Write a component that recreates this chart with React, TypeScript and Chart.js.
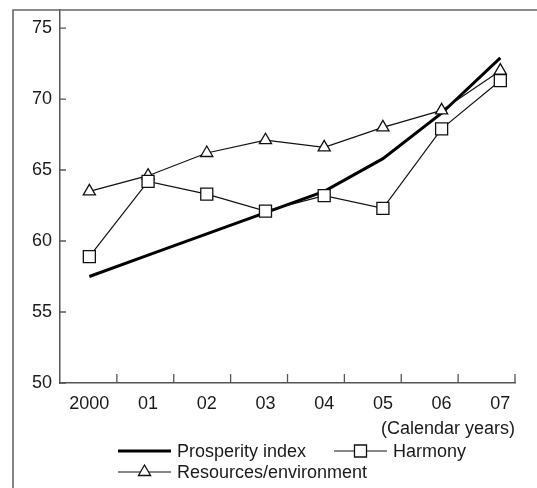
import { useEffect, useRef } from "react"
import { Chart, registerables } from "chart.js"
import { drawPoint } from "chart.js/helpers"

Chart.register(...registerables)

// Datos
const years = ["2000", "01", "02", "03", "04", "05", "06", "07"]
const prosperity = [57.5, 59.0, 60.5, 62.0, 63.5, 65.8, 69.0, 72.9]
const harmony = [58.9, 64.2, 63.3, 62.1, 63.2, 62.3, 67.9, 71.3]
const resources = [63.5, 64.6, 66.2, 67.1, 66.6, 68.0, 69.2, 72.0]
const yTicks = [50, 55, 60, 65, 70, 75]
const seriesNames = ["Prosperity index", "Harmony", "Resources/environment"]
const xUnit = "(Calendar years)"

const FONT = "'Liberation Sans', Arial, Helvetica, sans-serif"
const INK = "#1a1a1a"
const AXIS = "#555"

// marco exterior (solo se ven los bordes izquierdo y superior)
const framePlugin = {
  id: "frame",
  afterDraw(chart: any) {
    const { ctx, width, height } = chart
    ctx.save()
    ctx.strokeStyle = "#666"
    ctx.lineWidth = 1.6
    ctx.beginPath()
    ctx.moveTo(13, height)
    ctx.lineTo(13, 10)
    ctx.lineTo(width, 10)
    ctx.stroke()
    ctx.restore()
  },
}

// marcas de eje hacia dentro
const innerTicksPlugin = {
  id: "innerTicks",
  afterDraw(chart: any) {
    const { ctx, chartArea, scales } = chart
    ctx.save()
    ctx.strokeStyle = AXIS
    ctx.lineWidth = 1.3
    ctx.beginPath()
    yTicks.forEach((v) => {
      const py = scales.y.getPixelForValue(v)
      ctx.moveTo(chartArea.left, py)
      ctx.lineTo(chartArea.left + 6, py)
    })
    const w = chartArea.right - chartArea.left
    years.forEach((_, i) => {
      const px = chartArea.left + ((i + 1) * w) / years.length
      ctx.moveTo(px, chartArea.bottom)
      ctx.lineTo(px, chartArea.bottom - 9)
    })
    ctx.stroke()
    ctx.restore()
  },
}

const legendPlugin = {
  id: "customLegend",
  afterDraw(chart: any) {
    const { ctx } = chart
    const spots = [
      { x: 118, y: 451 },
      { x: 334, y: 451 },
      { x: 118, y: 472 },
    ]
    ctx.save()
    chart.data.datasets.forEach((ds: any, i: number) => {
      const { x, y } = spots[i]
      ctx.strokeStyle = ds.borderColor
      ctx.lineWidth = ds.borderWidth
      ctx.beginPath()
      ctx.moveTo(x, y)
      ctx.lineTo(x + 53, y)
      ctx.stroke()
      if (ds.pointRadius > 0) {
        ctx.fillStyle = ds.pointBackgroundColor
        ctx.strokeStyle = ds.pointBorderColor
        ctx.lineWidth = ds.pointBorderWidth
        drawPoint(ctx, { pointStyle: ds.pointStyle, radius: ds.pointRadius, borderWidth: ds.pointBorderWidth, rotation: 0 }, x + 26.5, y)
      }
      ctx.fillStyle = INK
      ctx.font = `18px ${FONT}`
      ctx.textAlign = "left"
      ctx.textBaseline = "middle"
      ctx.fillText(ds.label, x + 59, y + 1)
    })
    ctx.restore()
  },
}

export default function App() {
  const chartRef = useRef<HTMLCanvasElement>(null)
  const chartInstance = useRef<Chart | null>(null)

  useEffect(() => {
    if (!chartRef.current) return
    if (chartInstance.current) chartInstance.current.destroy()
    const ctx = chartRef.current.getContext("2d")
    if (!ctx) return

    const toXY = (vals: number[]) => vals.map((v, i) => ({ x: i, y: v }))

    chartInstance.current = new Chart(ctx, {
      type: "line",
      data: {
        datasets: [
          {
            label: seriesNames[0],
            data: toXY(prosperity),
            borderColor: "#000",
            borderWidth: 3,
            pointRadius: 0,
            tension: 0,
            order: 3,
          },
          {
            label: seriesNames[1],
            data: toXY(harmony),
            borderColor: "#111",
            borderWidth: 1.2,
            pointStyle: "rect",
            pointRadius: 8.5,
            pointBackgroundColor: "#fff",
            pointBorderColor: "#111",
            pointBorderWidth: 1.3,
            tension: 0,
            order: 1,
          },
          {
            label: seriesNames[2],
            data: toXY(resources),
            borderColor: "#111",
            borderWidth: 1.2,
            pointStyle: "triangle",
            pointRadius: 7,
            pointBackgroundColor: "#fff",
            pointBorderColor: "#111",
            pointBorderWidth: 1.3,
            tension: 0,
            order: 2,
          },
        ],
      },
      options: {
        animation: false,
        responsive: true,
        maintainAspectRatio: false,
        layout: { padding: { left: 0, right: 22, top: 10, bottom: 48 } },
        plugins: {
          legend: { display: false },
          tooltip: { enabled: false },
        },
        scales: {
          x: {
            type: "linear",
            min: -0.5,
            max: 7.25,
            grid: { display: false, drawTicks: false },
            border: { display: true, color: AXIS, width: 1.5 },
            afterBuildTicks: (scale: any) => {
              scale.ticks = years.map((_, i) => ({ value: i }))
            },
            afterFit: (scale: any) => {
              scale.height = 57
              scale.paddingLeft = 0
              scale.paddingRight = 0
            },
            ticks: {
              autoSkip: false,
              maxRotation: 0,
              padding: 10,
              color: INK,
              font: { family: FONT, size: 18 },
              callback: (_v: any, i: number) => years[i],
            },
            title: {
              display: true,
              text: xUnit,
              align: "end",
              color: INK,
              font: { family: FONT, size: 18 },
              padding: 0,
            },
          },
          y: {
            min: 50,
            max: 76.27,
            grid: { display: false, drawTicks: false },
            border: { display: true, color: AXIS, width: 1.5 },
            afterBuildTicks: (scale: any) => {
              scale.ticks = yTicks.map((v) => ({ value: v }))
            },
            afterFit: (scale: any) => {
              scale.width = 60
              scale.paddingTop = 0
              scale.paddingBottom = 0
            },
            ticks: {
              padding: 8,
              color: INK,
              font: { family: FONT, size: 18 },
            },
          },
        },
      },
      plugins: [framePlugin, innerTicksPlugin, legendPlugin],
    } as any)

    return () => {
      if (chartInstance.current) {
        chartInstance.current.destroy()
        chartInstance.current = null
      }
    }
  }, [])

  return (
    <div style={{ position: "fixed", left: 0, top: 0, width: 537, height: 488, background: "#fff" }}>
      <canvas ref={chartRef} />
    </div>
  )
}
